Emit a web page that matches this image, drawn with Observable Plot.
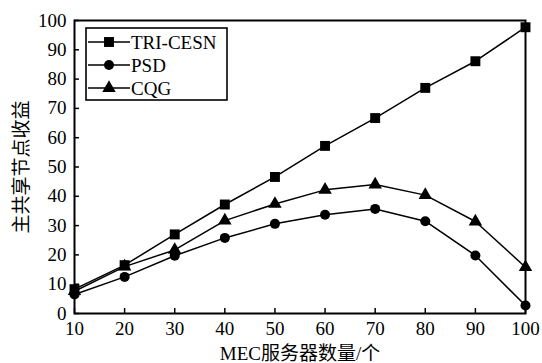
<!DOCTYPE html>
<html><head><meta charset="utf-8">
<script src="https://cdn.jsdelivr.net/npm/d3@7"></script>
<script src="https://cdn.jsdelivr.net/npm/@observablehq/plot@0.6"></script>
<style>
body{margin:0;background:#fff;}
</style></head><body>
<div id="wrap"></div>
<script>
const xValues = [10,20,30,40,50,60,70,80,90,100];
const seriesNames = ["TRI-CESN","PSD","CQG"];
const triCesn = [8.3,16.5,27,37.2,46.6,57.2,66.7,77,86.1,97.7];
const psd = [6.5,12.5,19.7,25.8,30.6,33.7,35.7,31.5,19.8,2.7];
const cqg = [7.6,16,21.7,31.7,37.4,42.2,44,40.4,31.4,15.8];
const symbols = ["square","circle","triangle"];
const sizes = [5.6,5,5];
const xTicks = [10,20,30,40,50,60,70,80,90,100];
const yTicks = [0,10,20,30,40,50,60,70,80,90,100];

const seriesValues = [triCesn, psd, cqg];
const data = [];
seriesNames.forEach((s,i)=>seriesValues[i].forEach((v,j)=>data.push({series:s,x:xValues[j],y:v})));

const font = "'Liberation Serif', 'Times New Roman', 'DejaVu Serif', 'Noto Sans CJK SC', serif";
const symMap = {square:d3.symbolSquare,circle:d3.symbolCircle,triangle:d3.symbolTriangle};

function legendMark(index, scales, values, dim) {
  const g = d3.create("svg:g").attr("font-family", font).attr("font-size", 19).attr("text-anchor", "start");
  const x0 = dim.marginLeft + 12, y0 = dim.marginTop + 8;
  g.append("rect").attr("x", x0).attr("y", y0).attr("width", 141).attr("height", 72)
    .style("fill", "#fff").style("stroke", "#000").style("stroke-width", "1.6px");
  seriesNames.forEach((s, i) => {
    const cy = y0 + 14 + i * 23;
    g.append("line").attr("x1", x0 + 2).attr("x2", x0 + 44).attr("y1", cy).attr("y2", cy)
      .style("stroke", "#000").style("stroke-width", "1.5px");
    g.append("path").attr("transform", `translate(${x0 + 23},${cy})`)
      .attr("d", d3.symbol(symMap[symbols[i]], Math.PI * sizes[i] * sizes[i])()).style("fill", "#000");
    g.append("text").attr("x", x0 + 45).attr("y", cy).attr("dy", "0.35em").style("fill", "#000")
      .attr("text-anchor", "start").text(s);
  });
  return g.node();
}

const marks = [
  Plot.frame({stroke:"#000", strokeWidth:2}),
  Plot.axisX({ticks:xTicks, tickSize:0, tickPadding:8, fontSize:19, fontFamily:font, label:"MEC服务器数量/个", labelAnchor:"center", labelOffset:46, labelArrow:"none", tickFormat:d=>String(d)}),
  Plot.axisX({ticks:xTicks, tickSize:-5, text:null, label:null, strokeWidth:1.5}),
  Plot.axisY({ticks:yTicks, tickSize:0, tickPadding:8, fontSize:19, fontFamily:font, label:"主共享节点收益", labelAnchor:"center", labelOffset:60, labelArrow:"none"}),
  Plot.axisY({ticks:yTicks, tickSize:-5, text:null, label:null, strokeWidth:1.5}),
];
seriesNames.forEach((s,i)=>{
  const d = data.filter(e=>e.series===s);
  marks.push(Plot.line(d,{x:"x",y:"y",stroke:"#000",strokeWidth:1.5}));
  marks.push(Plot.dot(d,{x:"x",y:"y",symbol:symbols[i],r:sizes[i],fill:"#000",stroke:"none"}));
});
marks.push(legendMark);

const chart = Plot.plot({
  width:542, height:363,
  marginLeft:74, marginRight:17, marginTop:20, marginBottom:50,
  style:{fontFamily:font, fontSize:"19px", color:"#000", background:"#fff"},
  x:{domain:[10,100]},
  y:{domain:[0,100]},
  marks
});
document.getElementById("wrap").appendChild(chart);
</script>
</body></html>
